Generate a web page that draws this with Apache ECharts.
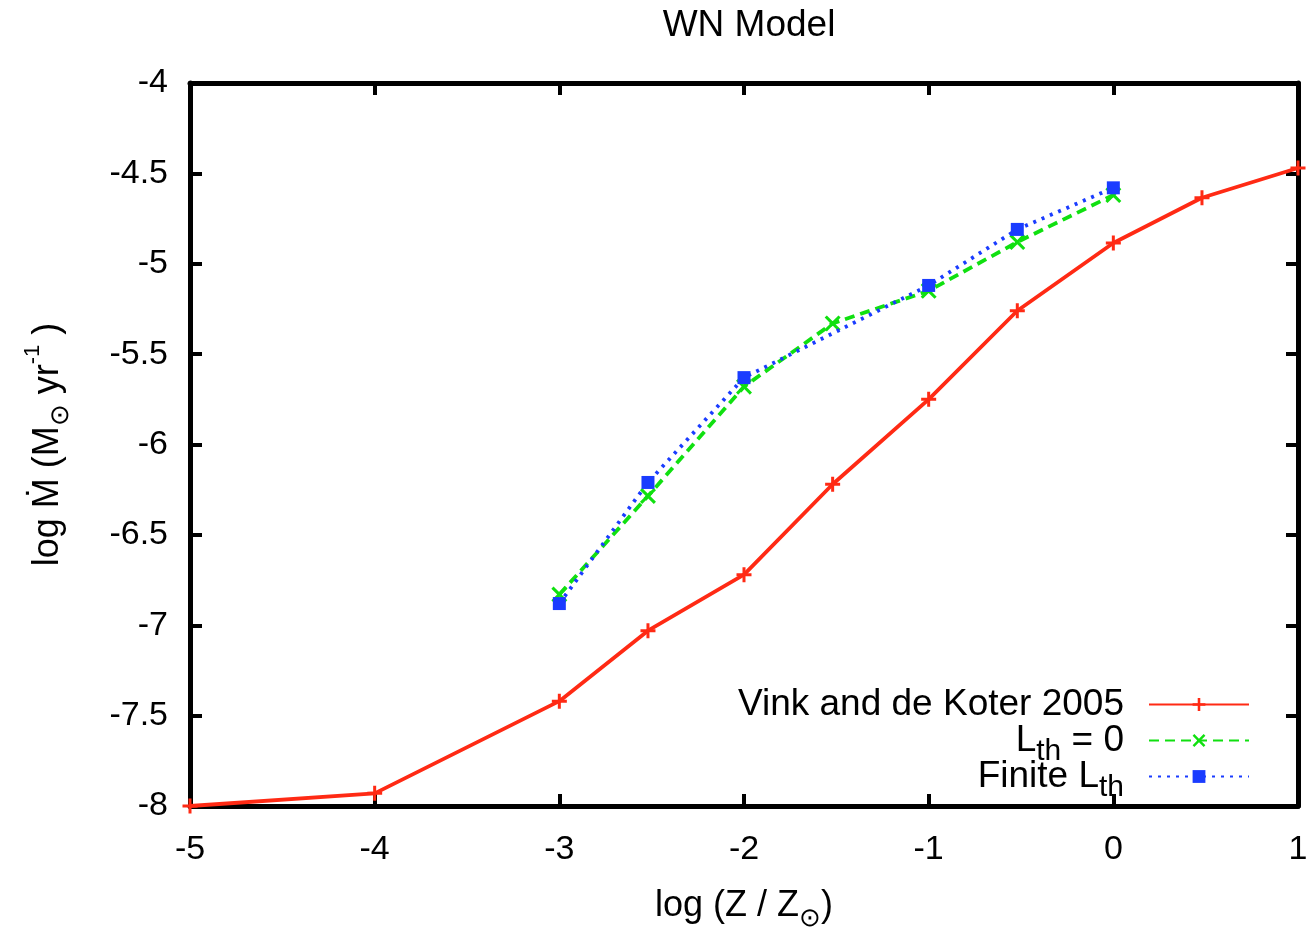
<!DOCTYPE html>
<html><head><meta charset="utf-8">
<script src="https://cdn.jsdelivr.net/npm/echarts@6/dist/echarts.min.js"></script>
<style>html,body{margin:0;padding:0;background:#fff}#c{width:1306px;height:927px}</style>
</head><body><div id="c"></div>
<script>
const vinkX = [-5, -4, -3, -2.52, -2, -1.52, -1, -0.52, 0, 0.48, 1];
const vinkY = [-8.0, -7.93, -7.42, -7.03, -6.72, -6.22, -5.75, -5.26, -4.885, -4.635, -4.47];
const lth0X = [-3, -2.52, -2, -1.52, -1, -0.52, 0];
const lth0Y = [-6.83, -6.285, -5.68, -5.33, -5.15, -4.88, -4.62];
const finX = [-3, -2.52, -2, -1, -0.52, 0];
const finY = [-6.88, -6.21, -5.63, -5.12, -4.81, -4.58];
const xTicks = [-5, -4, -3, -2, -1, 0, 1];
const yTicks = [-8, -7.5, -7, -6.5, -6, -5.5, -5, -4.5, -4];

const pair = (xs, ys) => xs.map((x, i) => [x, ys[i]]);
const FONT = 'Liberation Sans';
const plusPath = 'path://M-1.4,-7H1.4V-1.4H7V1.4H1.4V7H-1.4V1.4H-7V-1.4H-1.4Z';
const crossPath = 'path://M-7,-5.1L-5.1,-7L0,-1.9L5.1,-7L7,-5.1L1.9,0L7,5.1L5.1,7L0,1.9L-5.1,7L-7,5.1L-1.9,0Z';

const chart = echarts.init(document.getElementById('c'));
const axisCommon = () => ({
  axisLine: {show: true, onZero: false, lineStyle: {color: '#000', width: 5}},
  axisTick: {show: true, inside: true, length: 12, lineStyle: {color: '#000', width: 4}},
  splitLine: {show: false}
});
const rich = {
  a: {fontFamily: FONT, fontSize: 36, color: '#000', lineHeight: 52, verticalAlign: 'middle'},
  sub: {fontFamily: FONT, fontSize: 26, color: '#000', lineHeight: 22, verticalAlign: 'bottom'},
  sup: {fontFamily: FONT, fontSize: 22, color: '#000', lineHeight: 26, verticalAlign: 'top'}
};
const legRich = {
  a: {fontFamily: FONT, fontSize: 37, color: '#000', lineHeight: 52, verticalAlign: 'middle'},
  s: {fontFamily: FONT, fontSize: 30, color: '#000', lineHeight: 22, verticalAlign: 'bottom'}
};
const legFmt = n => n === 'Vink and de Koter 2005' ? '{a|Vink and de Koter 2005}'
  : n === 'L_th = 0' ? '{a|L}{s|th}{a| = 0}' : '{a|Finite L}{s|th}';
const mkLegend = (name, top) => ({
  data: [name], right: 56, top: top, orient: 'vertical', align: 'right',
  itemWidth: 100, itemHeight: 16, itemGap: 0, padding: 0,
  formatter: legFmt, textStyle: {rich: legRich, padding: [0, 20, 0, 0]}, selectedMode: false
});

chart.setOption({
  animation: false,
  title: {text: 'WN Model', left: 744, top: 2, textAlign: 'center',
    textStyle: {fontFamily: FONT, fontSize: 37, fontWeight: 'normal', color: '#000'}},
  grid: {left: 190, right: 8, top: 83, bottom: 121, containLabel: false, outerBoundsMode: 'none'},
  legend: [mkLegend('Vink and de Koter 2005', 686), mkLegend('L_th = 0', 722), mkLegend('Finite L_th', 758)],
  xAxis: [
    Object.assign({type: 'value', min: -5, max: 1, interval: 1, position: 'bottom',
      name: '{a|log (Z / Z}{sub|⊙}{a|)}', nameLocation: 'middle', nameGap: 74,
      nameTextStyle: {rich: rich},
      axisLabel: {fontFamily: FONT, fontSize: 34, color: '#000', margin: 27,
        formatter: v => xTicks.includes(v) ? String(v) : ''}}, axisCommon()),
    Object.assign({type: 'value', min: -5, max: 1, interval: 1, position: 'top',
      axisLabel: {show: false}}, axisCommon())
  ],
  yAxis: [
    Object.assign({type: 'value', min: -8, max: -4, interval: 0.5, position: 'left',
      name: '{a|log Ṁ (M}{sub|⊙}{a| yr}{sup|-1}{a| )}', nameLocation: 'middle', nameGap: 116, nameRotate: 90,
      nameTextStyle: {rich: rich},
      axisLabel: {fontFamily: FONT, fontSize: 34, color: '#000', margin: 22,
        formatter: v => yTicks.includes(v) ? String(v) : ''}}, axisCommon()),
    Object.assign({type: 'value', min: -8, max: -4, interval: 0.5, position: 'right',
      axisLabel: {show: false}}, axisCommon())
  ],
  series: [
    {name: 'Vink and de Koter 2005', type: 'line', data: pair(vinkX, vinkY),
      symbol: plusPath, symbolSize: 15, color: '#ff2a14',
      lineStyle: {width: 3.8, color: '#ff2a14'}, itemStyle: {color: '#ff2a14'}, z: 2},
    {name: 'L_th = 0', type: 'line', data: pair(lth0X, lth0Y),
      symbol: crossPath, symbolSize: 16, color: '#10e010',
      lineStyle: {width: 3.8, type: [10, 6], color: '#10e010'}, itemStyle: {color: '#10e010'}, z: 3},
    {name: 'Finite L_th', type: 'line', data: pair(finX, finY),
      symbol: 'rect', symbolSize: 13, color: '#1a3cff',
      lineStyle: {width: 3.8, type: [3, 6], color: '#1a3cff'}, itemStyle: {color: '#1a3cff'}, z: 4}
  ]
});
</script></body></html>
